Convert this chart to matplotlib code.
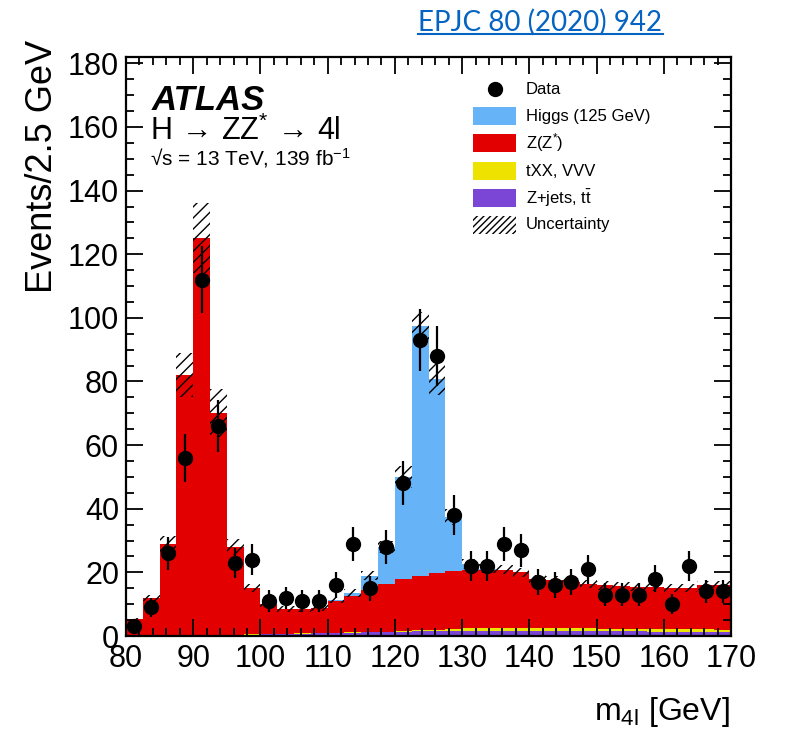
import numpy as np
import matplotlib
matplotlib.use('Agg')
import matplotlib.pyplot as plt
from matplotlib.patches import Rectangle
from matplotlib.lines import Line2D
from matplotlib.ticker import MultipleLocator

plt.rcParams['font.family'] = ['Liberation Sans', 'DejaVu Sans']
plt.rcParams['mathtext.fontset'] = 'custom'
plt.rcParams['mathtext.rm'] = 'Liberation Sans'
plt.rcParams['mathtext.it'] = 'Liberation Sans:italic'
plt.rcParams['mathtext.bf'] = 'Liberation Sans:bold'
plt.rcParams['hatch.linewidth'] = 1.0

# m4l bins, 2.5 GeV wide
edges = np.arange(80.0, 170.01, 2.5)

data = [3, 9, 26, 56, 112, 66, 23, 24, 11, 12, 11, 11, 16, 29, 15, 28, 48, 93,
        88, 38, 22, 22, 29, 27, 17, 16, 17, 21, 13, 13, 13, 18, 10, 22, 14, 14]

zjets = [0.2, 0.2, 0.2, 0.2, 0.3, 0.3, 0.3, 0.4, 0.5, 0.6, 0.7, 0.8, 1.0, 1.1,
         1.2, 1.3, 1.4, 1.5, 1.5, 1.6, 1.7, 1.7, 1.7, 1.7, 1.7, 1.6, 1.6, 1.6,
         1.5, 1.5, 1.5, 1.4, 1.4, 1.4, 1.3, 1.3]

txx = [0.1, 0.1, 0.1, 0.1, 0.1, 0.1, 0.1, 0.1, 0.1, 0.1, 0.1, 0.1, 0.1, 0.1,
       0.1, 0.1, 0.2, 0.3, 0.4, 0.5, 0.8, 0.8, 0.8, 0.8, 0.8, 0.8, 0.8, 0.8,
       0.8, 0.8, 0.8, 0.8, 0.8, 0.8, 0.8, 0.7]

zz = [4.9, 11.7, 28.7, 81.7, 124.6, 69.6, 27.6, 14.5, 9.4, 7.9, 7.8, 7.8, 9.9,
      11.4, 13.2, 15.0, 16.4, 17.2, 17.9, 18.2, 18.1, 18.3, 18.3, 17.5, 15.5,
      15.3, 14.5, 14.0, 13.6, 13.3, 13.1, 13.2, 13.0, 13.0, 13.8, 14.0]

higgs = [0, 0, 0, 0, 0, 0, 0, 0, 0, 0, 0, 0, 0.3, 1.0, 4.5, 11.6, 32, 78.5,
         61, 17, 2.0, 0.4, 0, 0, 0, 0, 0, 0, 0, 0, 0, 0, 0, 0, 0, 0]

unc = [0.6, 1.0, 2.5, 7.0, 11.0, 7.5, 2.5, 1.3, 1.0, 0.9, 0.9, 0.9, 1.0, 1.2,
       1.5, 2.0, 3.5, 4.5, 5.0, 2.5, 1.5, 1.4, 1.4, 1.4, 1.3, 1.3, 1.3, 1.3,
       1.3, 1.3, 1.3, 1.3, 1.3, 1.3, 1.3, 1.3]

stack = [('Z+jets, $\\mathrm{t}\\bar{\\mathrm{t}}$', zjets, '#7b45d6'),
         ('tXX, VVV', txx, '#eee200'),
         ('Z(Z$^{*}$)', zz, '#e30000'),
         ('Higgs (125 GeV)', higgs, '#66b3f7')]

fig = plt.figure(figsize=(7.87, 7.31), dpi=100)
ax = fig.add_axes([126 / 787, 1 - 636 / 731, 605 / 787, 579 / 731])

bottom = np.zeros(len(data))
for label, vals, col in stack:
    top = bottom + np.array(vals)
    ax.stairs(top, edges, baseline=bottom, fill=True, color=col, lw=0)
    bottom = top
total = bottom
unc = np.array(unc)
ax.stairs(total + unc, edges, baseline=total - unc, fill=True, facecolor='none',
          edgecolor='black', hatch='///', lw=0)

centers = 0.5 * (edges[:-1] + edges[1:])
ax.errorbar(centers, data, yerr=np.sqrt(data), fmt='o', color='black',
            ms=10, elinewidth=1.6, capsize=0, zorder=5)

ax.set_xlim(80, 170)
ax.set_ylim(0, 182)
ax.xaxis.set_major_locator(MultipleLocator(10))
ax.xaxis.set_minor_locator(MultipleLocator(2))
ax.yaxis.set_major_locator(MultipleLocator(20))
ax.yaxis.set_minor_locator(MultipleLocator(5))
ax.tick_params(which='both', direction='in', top=True, right=True, width=1.3)
ax.tick_params(which='major', length=12, labelsize=22, pad=5)
ax.tick_params(axis='x', which='major', pad=6)
ax.tick_params(which='minor', length=6)
for s in ax.spines.values():
    s.set_linewidth(1.6)

fig.text(43 / 787, 1 - 40 / 731, 'Events/2.5 GeV', rotation=90, fontsize=26,
         ha='center', va='top')
fig.text(730 / 787, 1 - 712 / 731, 'm$_{\\mathrm{4l}}$ [GeV]', fontsize=23,
         ha='right', va='center')

# ATLAS label block
ax.text(0.043, 0.9085, 'ATLAS', transform=ax.transAxes, fontsize=25,
        fontweight='bold', fontstyle='italic', va='baseline')
ax.text(0.040, 0.8566, 'H$\\,\\rightarrow\\,$ZZ$^{*}\\,\\rightarrow\\,$4l',
        transform=ax.transAxes, fontsize=22, va='baseline')
ax.text(0.040, 0.8135, '\u221as = 13 TeV, 139 fb$^{-1}$',
        transform=ax.transAxes, fontsize=15, va='baseline')

# legend drawn by hand
x0 = (473 - 126) / 605
bw = 43 / 605
bh = 18 / 579
tx = (526 - 126) / 605
rows = [89, 116, 143, 171, 198, 225]
ys = [(636 - r) / 579 for r in rows]
ax.plot([x0 + bw / 2], [ys[0]], 'o', color='black', ms=10,
        transform=ax.transAxes, clip_on=False)
ax.text(tx, ys[0], 'Data', transform=ax.transAxes, fontsize=12, va='center')
for (label, vals, col), y in zip(stack[::-1], ys[1:5]):
    ax.add_patch(Rectangle((x0, y - bh / 2), bw, bh, color=col, lw=0,
                           transform=ax.transAxes))
    ax.text(tx, y, label, transform=ax.transAxes, fontsize=12, va='center')
ax.add_patch(Rectangle((x0, ys[5] - bh / 2), bw, bh, facecolor='none',
                       edgecolor='black', hatch='/////', lw=0,
                       transform=ax.transAxes))
ax.text(tx, ys[5], 'Uncertainty', transform=ax.transAxes, fontsize=12,
        va='center')

# reference link on top
fig.text(540 / 787, 1 - 31 / 731, 'EPJC 80 (2020) 942', fontsize=20,
         family='Lato', color='#0563c1', ha='center', va='baseline')
fig.add_artist(Line2D([418 / 787, 663 / 787], [1 - 34 / 731, 1 - 34 / 731],
                      color='#0563c1', lw=1.5))

fig.savefig('out.png', dpi=100)
